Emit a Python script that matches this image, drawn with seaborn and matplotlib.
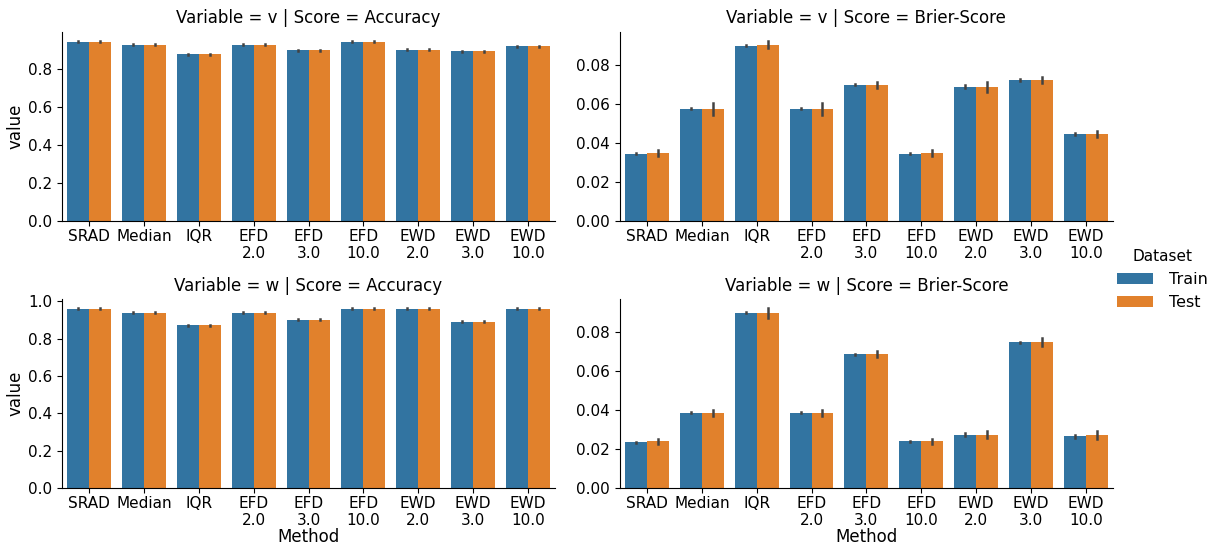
import numpy as np
import pandas as pd
import matplotlib
matplotlib.use("Agg")
import matplotlib.pyplot as plt
import seaborn as sns

methods = ["SRAD", "Median", "IQR", "EFD\n2.0", "EFD\n3.0", "EFD\n10.0",
           "EWD\n2.0", "EWD\n3.0", "EWD\n10.0"]
datasets = ["Train", "Test"]

# bar heights
acc_v_train = [0.947, 0.931, 0.879, 0.931, 0.900, 0.947, 0.905, 0.895, 0.921]
acc_v_test = [0.947, 0.931, 0.879, 0.931, 0.900, 0.947, 0.905, 0.895, 0.921]
brier_v_train = [0.0345, 0.0577, 0.0900, 0.0577, 0.0699, 0.0345, 0.0689, 0.0724, 0.0446]
brier_v_test = [0.0350, 0.0577, 0.0906, 0.0577, 0.0699, 0.0350, 0.0689, 0.0724, 0.0446]
acc_w_train = [0.961, 0.940, 0.872, 0.940, 0.902, 0.961, 0.961, 0.892, 0.961]
acc_w_test = [0.961, 0.940, 0.872, 0.940, 0.902, 0.961, 0.961, 0.892, 0.961]
brier_w_train = [0.0234, 0.0385, 0.0896, 0.0385, 0.0684, 0.0239, 0.0274, 0.0745, 0.0266]
brier_w_test = [0.0239, 0.0385, 0.0896, 0.0385, 0.0684, 0.0239, 0.0274, 0.0745, 0.0271]

# error bar half-widths
acc_v_train_err = [0.002] * 9
acc_v_test_err = [0.004] * 9
brier_v_train_err = [0.0003, 0.0003, 0.0003, 0.0003, 0.0003, 0.0003, 0.0008, 0.0003, 0.0004]
brier_v_test_err = [0.0016, 0.0031, 0.0019, 0.0031, 0.0015, 0.0016, 0.0025, 0.0016, 0.0016]
acc_w_train_err = [0.002] * 9
acc_w_test_err = [0.004] * 9
brier_w_train_err = [0.0003, 0.0003, 0.0003, 0.0003, 0.0003, 0.0003, 0.0008, 0.0003, 0.0007]
brier_w_test_err = [0.0015, 0.0017, 0.0025, 0.0017, 0.0016, 0.0015, 0.0019, 0.0021, 0.0019]

panels = [
    ("v", "Accuracy", acc_v_train, acc_v_test, acc_v_train_err, acc_v_test_err),
    ("v", "Brier-Score", brier_v_train, brier_v_test, brier_v_train_err, brier_v_test_err),
    ("w", "Accuracy", acc_w_train, acc_w_test, acc_w_train_err, acc_w_test_err),
    ("w", "Brier-Score", brier_w_train, brier_w_test, brier_w_train_err, brier_w_test_err),
]

rows = []
for var, score, tr, te, tr_e, te_e in panels:
    for ds, vals, errs in (("Train", tr, tr_e), ("Test", te, te_e)):
        for m, v, e in zip(methods, vals, errs):
            # two observations per bar -> mean is v, min/max span is the error bar
            rows.append({"Variable": var, "Score": score, "Dataset": ds, "Method": m, "value": v - e})
            rows.append({"Variable": var, "Score": score, "Dataset": ds, "Method": m, "value": v + e})
df = pd.DataFrame(rows)

plt.rcParams["font.family"] = ["DejaVu Sans"]
plt.rcParams["xtick.labelsize"] = 11
plt.rcParams["ytick.labelsize"] = 11
plt.rcParams["xtick.major.pad"] = 2
plt.rcParams["axes.labelsize"] = 12
plt.rcParams["axes.titlesize"] = 12.5
plt.rcParams["legend.fontsize"] = 11.5
plt.rcParams["legend.title_fontsize"] = 11

g = sns.catplot(data=df, x="Method", y="value", hue="Dataset", row="Variable", col="Score",
                kind="bar", sharey=False, sharex=False, order=methods, hue_order=datasets,
                palette="tab10", errorbar=("pi", 100), saturation=0.75,
                err_kws={"color": ".26", "linewidth": 1.8}, height=2.5, aspect=2.2)

g.figure.set_size_inches(12.1, 5.48)
g.figure.subplots_adjust(left=0.051, right=0.92, top=0.942, bottom=0.109, hspace=0.41, wspace=0.13)

for ax in g.axes[0]:
    ax.set_xlabel("")
for ax in g.axes[1]:
    ax.set_xlabel("Method", labelpad=0)
for ax in g.axes[:, 1]:
    ax.set_ylabel("")
for ax in g.axes[:, 0]:
    ax.set_ylabel("value", labelpad=2)
    ax.set_yticks([0.0, 0.2, 0.4, 0.6, 0.8] + ([1.0] if ax.get_ylim()[1] >= 1.0 else []))
for ax in g.axes.flat:
    ax.tick_params(axis="x", length=3.5)
    ax.title.set_y(1.01)

sns.move_legend(g, "center left", bbox_to_anchor=(0.915, 0.49), frameon=False,
                handlelength=2.3, handletextpad=1.0, borderaxespad=0.2)

g.figure.savefig("out.png", dpi=100)
